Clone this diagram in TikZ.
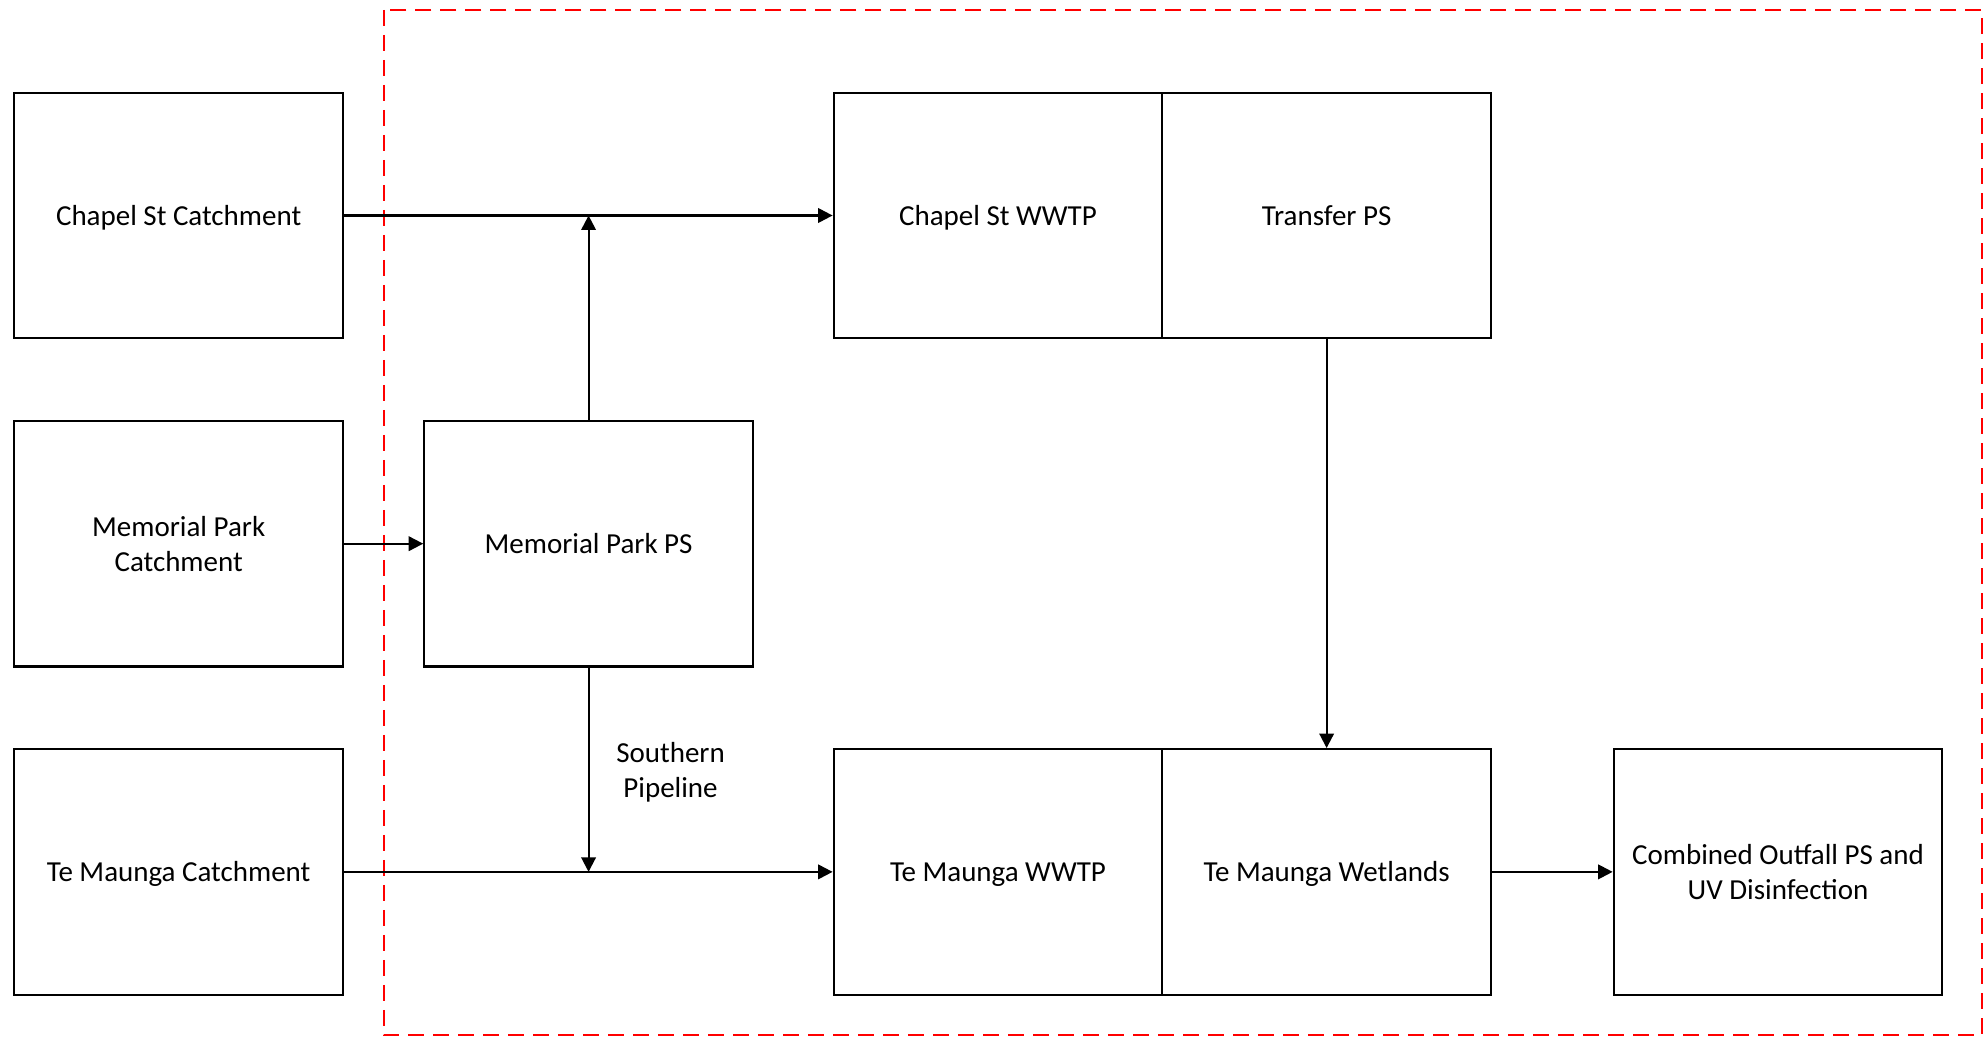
\documentclass[tikz,border=0pt]{standalone}
\usepackage{fontspec}
\setmainfont{Carlito}
\usetikzlibrary{arrows.meta}

\begin{document}
\begin{tikzpicture}[x=0.02cm,y=-0.02cm,
		unit/.style={draw, line width=1.2pt, fill=white, minimum width=6.574cm, minimum height=4.912cm, align=center, text depth=0pt, font=\fontsize{16.5}{20.2}\selectfont},
		flow/.style={line width=1.2pt, -{Triangle[length=2.9mm,width=2.9mm]}},
		scheme/.style={draw=red, line width=1.2pt, dash pattern=on 0.32cm off 0.18cm}]
		
		\useasboundingbox (0,0) rectangle (1984,1044);
		
		% scheme boundary
		\draw[scheme] (383.7,10) rectangle (1982,1035);
		
		% catchments
		\node (chc) at (178.65,215.5) [unit] {Chapel St Catchment};
		\node (mpc) [unit, below of=chc, node distance=6.565cm] {Memorial Park\\Catchment};
		\node (tmc) [unit, below of=mpc, node distance=6.565cm] {Te Maunga Catchment};
		
		% plants and pump stations
		\node (mpps) [unit, right of=mpc, node distance=8.2cm] {Memorial Park PS};
		\node (chw) [unit, right of=chc, node distance=16.39cm] {Chapel St WWTP};
		\node (tps) [unit, right of=chw, node distance=6.574cm] {Transfer PS};
		\node (tmw) [unit, right of=tmc, node distance=16.39cm] {Te Maunga WWTP};
		\node (tmwl) [unit, right of=tmw, node distance=6.574cm] {Te Maunga Wetlands};
		\node (cops) [unit, right of=tmwl, node distance=9.03cm] {Combined Outfall PS and\\UV Disinfection};
		
		\coordinate (jn) at (mpps |- chc.east);
		\coordinate (js) at (mpps |- tmc.east);
		
		\draw[flow] (chc) -- (chw);
		\draw[flow] (mpc) -- (mpps);
		\draw[flow] (tmc) -- (tmw);
		\draw[flow] (mpps) -- (jn);
		\draw[flow] (mpps) -- (js) node[midway, xshift=1.64cm, align=center, text depth=0pt, font=\fontsize{16.5}{20.2}\selectfont] {Southern\\Pipeline};
		\draw[flow] (tps) -- (tmwl);
		\draw[flow] (tmwl) -- (cops);
		
	\end{tikzpicture}
\end{document}
